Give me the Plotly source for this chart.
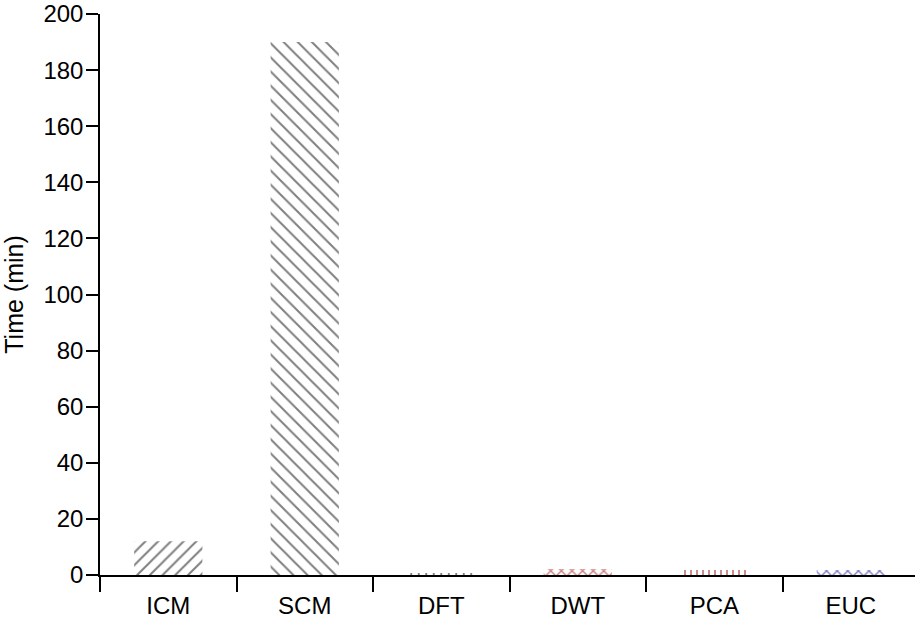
import plotly.graph_objects as go

categories = ["ICM", "SCM", "DFT", "DWT", "PCA", "EUC"]
times_min = [12, 190, 0.7, 2.1, 1.8, 1.8]
pattern_shapes = ["/", "\\", "|", "x", "|", "x"]
pattern_colors = ["black", "black", "black", "#a00000", "#900000", "#000090"]
pattern_sizes = [9, 10, 7.5, 7.5, 6, 7.5]
pattern_solidity = [0.22, 0.2, 0.25, 0.35, 0.3, 0.35]

fig = go.Figure()
fig.add_trace(go.Bar(
    x=categories, y=times_min, width=0.5,
    marker=dict(
        color="white",
        line=dict(width=0),
        pattern=dict(shape=pattern_shapes, fgcolor=pattern_colors, bgcolor="white",
                     size=pattern_sizes, solidity=pattern_solidity, fillmode="overlay"),
    ),
    showlegend=False,
))

font = "Liberation Sans, Arial, sans-serif"
fig.update_layout(
    width=915, height=623,
    margin=dict(l=100, r=0, t=14, b=48, autoexpand=False),
    paper_bgcolor="white", plot_bgcolor="white",
    font=dict(family=font, size=24, color="black"),
)
fig.update_xaxes(
    range=[-0.5, 5.47], showline=True, linecolor="black", linewidth=1.5,
    ticks="outside", tickson="boundaries", ticklen=15, tickwidth=1.5, tickcolor="black",
    showgrid=False, zeroline=False, tickfont=dict(size=24), ticklabelstandoff=8,
    automargin=False,
)
fig.update_yaxes(
    range=[0, 200], dtick=20, showline=True, linecolor="black", linewidth=1.5,
    ticks="outside", ticklen=12, tickwidth=1.5, tickcolor="black",
    showgrid=False, zeroline=False, tickfont=dict(size=24),
    ticklabeloverflow="allow", ticklabelstandoff=-2, automargin=False,
    title=dict(text="Time (min)", font=dict(size=25), standoff=15),
)
fig.write_html(
    "out.html",
    config={"displayModeBar": False},
    post_script="document.body.style.margin='0';document.body.style.overflow='hidden';",
)
